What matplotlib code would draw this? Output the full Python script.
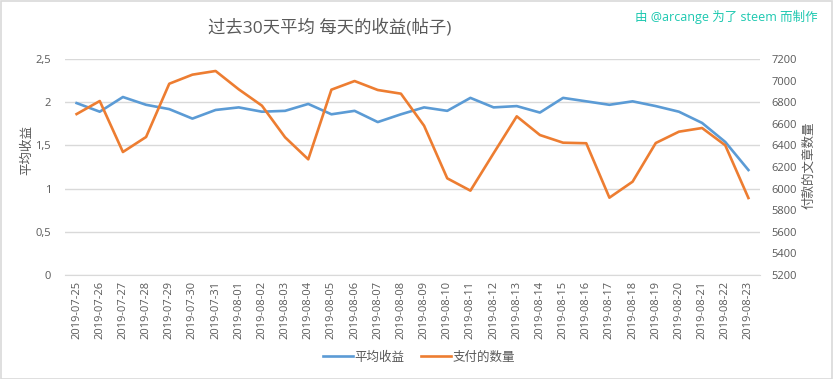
import matplotlib
matplotlib.use("Agg")
import matplotlib.pyplot as plt
from matplotlib.ticker import FixedLocator, FuncFormatter
from matplotlib.patches import Rectangle

plt.rcParams['font.family'] = ['Open Sans', 'Noto Sans CJK SC', 'DejaVu Sans']

dates = ["2019-07-25", "2019-07-26", "2019-07-27", "2019-07-28", "2019-07-29", "2019-07-30",
         "2019-07-31", "2019-08-01", "2019-08-02", "2019-08-03", "2019-08-04", "2019-08-05",
         "2019-08-06", "2019-08-07", "2019-08-08", "2019-08-09", "2019-08-10", "2019-08-11",
         "2019-08-12", "2019-08-13", "2019-08-14", "2019-08-15", "2019-08-16", "2019-08-17",
         "2019-08-18", "2019-08-19", "2019-08-20", "2019-08-21", "2019-08-22", "2019-08-23"]
avg_revenue = [1.99, 1.89, 2.06, 1.97, 1.92, 1.81, 1.91, 1.94, 1.89, 1.90, 1.98, 1.86,
               1.90, 1.77, 1.86, 1.94, 1.90, 2.05, 1.94, 1.955, 1.88, 2.05, 2.01, 1.97,
               2.01, 1.955, 1.89, 1.76, 1.54, 1.215]
paid_count = [6690, 6811, 6339, 6478, 6971, 7055, 7089, 6919, 6768, 6475, 6271, 6916,
              6996, 6913, 6879, 6582, 6095, 5981, 6327, 6669, 6496, 6425, 6420, 5916,
              6064, 6422, 6527, 6561, 6401, 5913]
left_ticks = [0, 0.5, 1, 1.5, 2, 2.5]
right_ticks = list(range(5200, 7201, 200))

title = "过去30天平均 每天的收益(帖子)"
watermark = "由 @arcange 为了 steem 而制作"
left_label = "平均收益"
right_label = "付款的文章数量"
legend_labels = ["平均收益", "支付的数量"]

W, H = 833, 379
fig = plt.figure(figsize=(W / 100, H / 100), dpi=100)
fig.patches.append(Rectangle((0.5 / W, 0.5 / H), 1 - 1.5 / W, 1 - 1.5 / H, transform=fig.transFigure,
                             fill=False, edgecolor="#D9D9D9", linewidth=1.2))

left, right, top, bottom = 65, 760, 59, 275
ax = fig.add_axes([left / W, 1 - bottom / H, (right - left) / W, (bottom - top) / H])
ax2 = ax.twinx()

x = list(range(len(dates)))
blue = "#5B9BD5"
orange = "#ED7D31"
gray = "#595959"

l1, = ax.plot(x, avg_revenue, color=blue, lw=1.9, label=legend_labels[0], zorder=3)
l2, = ax2.plot(x, paid_count, color=orange, lw=1.9, label=legend_labels[1], zorder=3)

ax.set_xlim(-0.5, len(dates) - 0.5)
ax.set_ylim(0, 2.5)
ax2.set_ylim(5200, 7200)
ax.yaxis.set_major_locator(FixedLocator(left_ticks))
ax.yaxis.set_major_formatter(FuncFormatter(lambda v, p: ("%g" % v).replace(".", ",")))
ax2.yaxis.set_major_locator(FixedLocator(right_ticks))
ax.set_xticks(x)
ax.set_xticklabels(dates, rotation=90, fontsize=7.5, color=gray)
ax.grid(axis="y", color="#D9D9D9", lw=1)
ax.set_axisbelow(True)
for a in (ax, ax2):
    for s in a.spines.values():
        s.set_visible(False)
    a.tick_params(length=0, colors=gray, labelsize=8)
ax.spines["bottom"].set_visible(True)
ax.spines["bottom"].set_color("#D9D9D9")
ax.tick_params(axis="x", pad=4)
ax.tick_params(axis="y", pad=10)
ax2.tick_params(axis="y", pad=8)

fig.text(27 / W, 1 - 150 / H, left_label, rotation=90, ha="center", va="center", fontsize=9, color=gray)
fig.text(809 / W, 1 - 165 / H, right_label, rotation=90, ha="center", va="center", fontsize=9, color=gray)
fig.text(330 / W, 1 - 28 / H, title, ha="center", va="center", fontsize=12.5, color=gray)
fig.text(818 / W, 1 - 17 / H, watermark, ha="right", va="center", fontsize=9, color="#1DC8B0")

fig.legend(handles=[l1, l2], loc="center", bbox_to_anchor=(419 / W, 1 - 357 / H), ncol=2,
           frameon=False, fontsize=9, labelcolor=gray, handlelength=2.4, columnspacing=1.3,
           handletextpad=0.15, borderpad=0)

fig.savefig("out.png", dpi=100)
